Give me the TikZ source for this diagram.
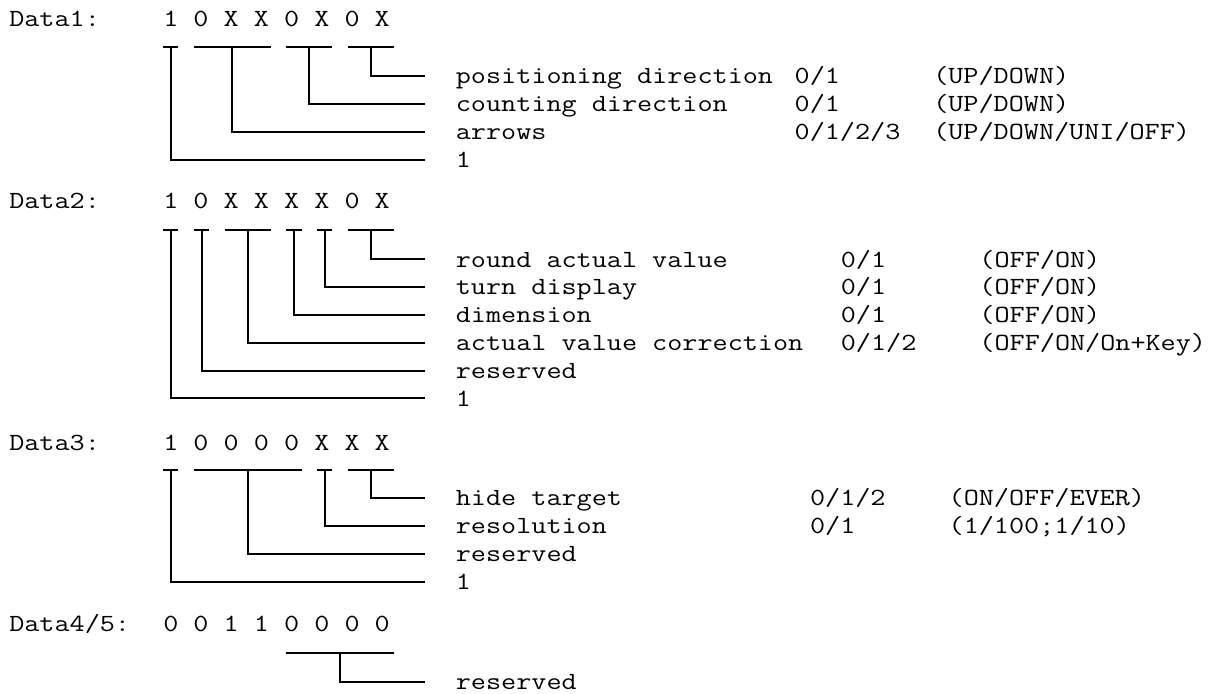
\documentclass[tikz,border=0pt]{standalone}
\usepackage{fontspec}
\setmonofont{lmmono12-regular.otf}[FakeStretch=1.189]

\tikzset{
  txt/.style={font=\ttfamily\fontsize{18.5}{22}\selectfont, inner sep=0pt,
    text height=11.55pt, text depth=0pt, anchor=west},
  head/.style={txt, anchor=base west},
  wire/.style={line width=1.5pt},
}

\begin{document}
\begin{tikzpicture}[x=0.75pt,y=-0.75pt]

    \useasboundingbox (0,0) rectangle (1212,693);

    % Data1
    \node[head] (h1) at (9,26.5) {Data1:};
    \node[head] (h1bits) at (163,26.5) {1 0 X X 0 X 0 X};

    \draw[wire] (163,46.7) -- (178.4,46.7);
    \draw[wire] (193.8,46.7) -- (270.8,46.7);
    \draw[wire] (286.2,46.7) -- (332.4,46.7);
    \draw[wire] (347.8,46.7) -- (394,46.7);
    \coordinate (d1s0) at (170.7,46.7);
    \coordinate (d1s1) at (232.3,46.7);
    \coordinate (d1s2) at (309.3,46.7);
    \coordinate (d1s3) at (370.9,46.7);

    \node[txt] (d1pos) at (455.6,75.8) {positioning direction};
    \node[txt] (d1posv) at (794.4,75.8) {0/1};
    \node[txt] (d1poso) at (933,75.8) {(UP/DOWN)};
    \node[txt] (d1cnt) at (455.6,103.8) {counting direction};
    \node[txt] (d1cntv) at (794.4,103.8) {0/1};
    \node[txt] (d1cnto) at (933,103.8) {(UP/DOWN)};
    \node[txt] (d1arr) at (455.6,131.5) {arrows};
    \node[txt] (d1arrv) at (794.4,131.5) {0/1/2/3};
    \node[txt] (d1arro) at (933,131.5) {(UP/DOWN/UNI/OFF)};
    \node[txt] (d1one) at (455.6,160) {1};

    \draw[wire] (d1s3) |- ([xshift=-23.1pt]d1pos.west);
    \draw[wire] (d1s2) |- ([xshift=-23.1pt]d1cnt.west);
    \draw[wire] (d1s1) |- ([xshift=-23.1pt]d1arr.west);
    \draw[wire] (d1s0) |- ([xshift=-23.1pt]d1one.west);

    % Data2
    \node[head] (h2) at (9,208.5) {Data2:};
    \node[head] (h2bits) at (163,208.5) {1 0 X X X X 0 X};

    \draw[wire] (163,230) -- (178.4,230);
    \draw[wire] (193.8,230) -- (209.2,230);
    \draw[wire] (224.6,230) -- (270.8,230);
    \draw[wire] (286.2,230) -- (301.6,230);
    \draw[wire] (317,230) -- (332.4,230);
    \draw[wire] (347.8,230) -- (394,230);
    \coordinate (d2s0) at (170.7,230);
    \coordinate (d2s1) at (201.5,230);
    \coordinate (d2s2) at (247.7,230);
    \coordinate (d2s3) at (293.9,230);
    \coordinate (d2s4) at (324.7,230);
    \coordinate (d2s5) at (370.9,230);

    \node[txt] (d2rnd) at (455.6,259.3) {round actual value};
    \node[txt] (d2rndv) at (840.6,259.3) {0/1};
    \node[txt] (d2rndo) at (979.2,259.3) {(OFF/ON)};
    \node[txt] (d2trn) at (455.6,287) {turn display};
    \node[txt] (d2trnv) at (840.6,287) {0/1};
    \node[txt] (d2trno) at (979.2,287) {(OFF/ON)};
    \node[txt] (d2dim) at (455.6,315) {dimension};
    \node[txt] (d2dimv) at (840.6,315) {0/1};
    \node[txt] (d2dimo) at (979.2,315) {(OFF/ON)};
    \node[txt] (d2cor) at (455.6,342.7) {actual value correction};
    \node[txt] (d2corv) at (840.6,342.7) {0/1/2};
    \node[txt] (d2coro) at (979.2,342.7) {(OFF/ON/On+Key)};
    \node[txt] (d2res) at (455.6,370.7) {reserved};
    \node[txt] (d2one) at (455.6,398.3) {1};

    \draw[wire] (d2s5) |- ([xshift=-23.1pt]d2rnd.west);
    \draw[wire] (d2s4) |- ([xshift=-23.1pt]d2trn.west);
    \draw[wire] (d2s3) |- ([xshift=-23.1pt]d2dim.west);
    \draw[wire] (d2s2) |- ([xshift=-23.1pt]d2cor.west);
    \draw[wire] (d2s1) |- ([xshift=-23.1pt]d2res.west);
    \draw[wire] (d2s0) |- ([xshift=-23.1pt]d2one.west);

    % Data3
    \node[head] (h3) at (9,450) {Data3:};
    \node[head] (h3bits) at (163,450) {1 0 0 0 0 X X X};

    \draw[wire] (163,469.5) -- (178.4,469.5);
    \draw[wire] (193.8,469.5) -- (301.6,469.5);
    \draw[wire] (317,469.5) -- (332.4,469.5);
    \draw[wire] (347.8,469.5) -- (394,469.5);
    \coordinate (d3s0) at (170.7,469.5);
    \coordinate (d3s1) at (247.7,469.5);
    \coordinate (d3s2) at (324.7,469.5);
    \coordinate (d3s3) at (370.9,469.5);

    \node[txt] (d3hid) at (455.6,497.5) {hide target};
    \node[txt] (d3hidv) at (809.8,497.5) {0/1/2};
    \node[txt] (d3hido) at (948.4,497.5) {(ON/OFF/EVER)};
    \node[txt] (d3rsl) at (455.6,525.7) {resolution};
    \node[txt] (d3rslv) at (809.8,525.7) {0/1};
    \node[txt] (d3rslo) at (948.4,525.7) {(1/100;1/10)};
    \node[txt] (d3res) at (455.6,553.5) {reserved};
    \node[txt] (d3one) at (455.6,581.8) {1};

    \draw[wire] (d3s3) |- ([xshift=-23.1pt]d3hid.west);
    \draw[wire] (d3s2) |- ([xshift=-23.1pt]d3rsl.west);
    \draw[wire] (d3s1) |- ([xshift=-23.1pt]d3res.west);
    \draw[wire] (d3s0) |- ([xshift=-23.1pt]d3one.west);

    % Data4/5
    \node[head] (h4) at (9,631.5) {Data4/5:};
    \node[head] (h4bits) at (163,631.5) {0 0 1 1 0 0 0 0};

    \draw[wire] (286.2,653) -- (394,653);
    \coordinate (d4s0) at (340.1,653);

    \node[txt] (d4res) at (455.6,681.8) {reserved};

    \draw[wire] (d4s0) |- ([xshift=-23.1pt]d4res.west);

\end{tikzpicture}
\end{document}
